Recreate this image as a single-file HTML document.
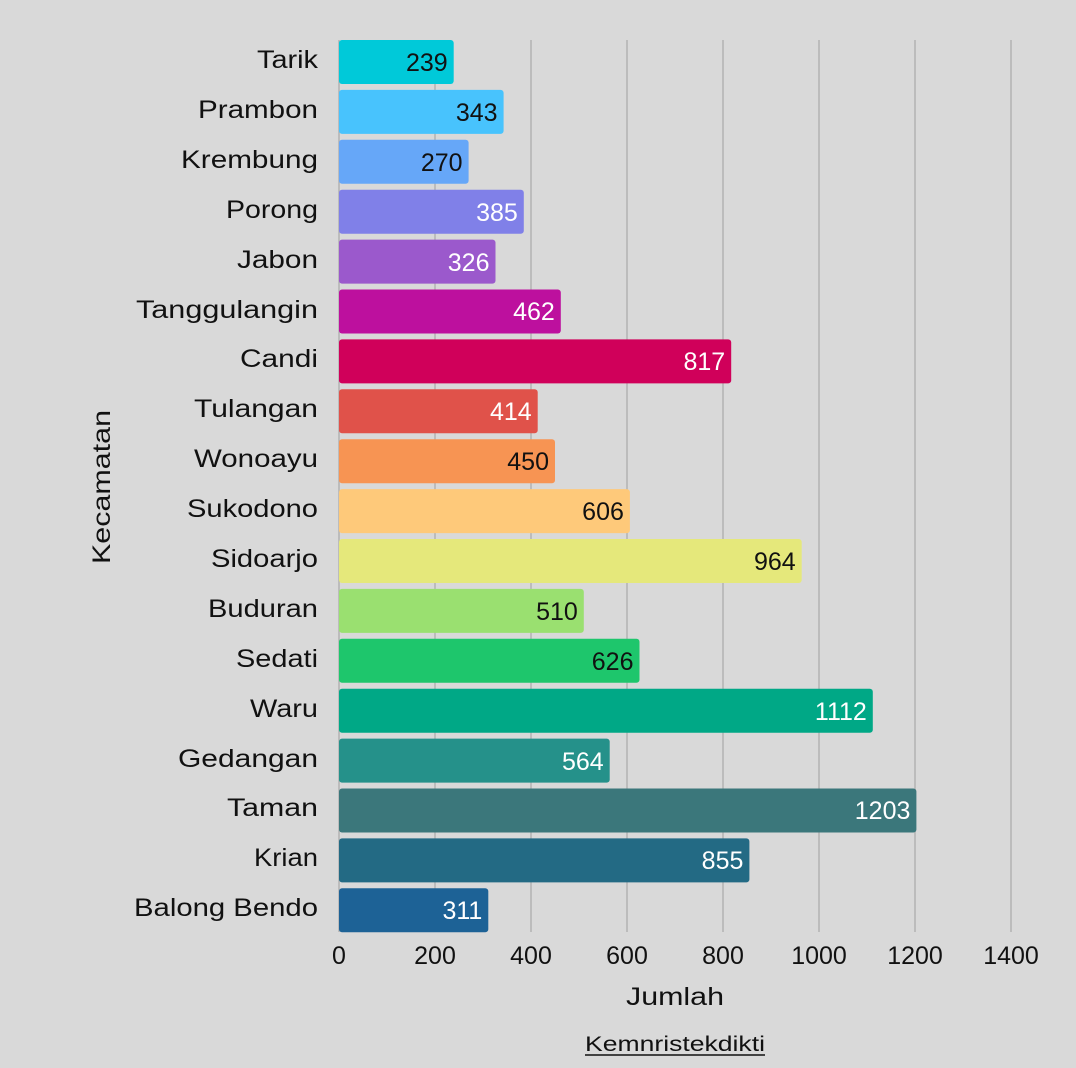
<!DOCTYPE html>
<html><head><meta charset="utf-8"><style>
html,body{margin:0;padding:0;background:#d9d9d9;}
svg{display:block;font-family:"Liberation Sans",sans-serif;}
</style></head><body>
<svg width="1076" height="1068" viewBox="0 0 1076 1068" xmlns="http://www.w3.org/2000/svg">
<rect width="1076" height="1068" fill="#d9d9d9"/>
<g stroke="#b3b3b3" stroke-width="1.5">
<line x1="435" y1="40" x2="435" y2="932"/><line x1="531" y1="40" x2="531" y2="932"/>
<line x1="627" y1="40" x2="627" y2="932"/><line x1="723" y1="40" x2="723" y2="932"/>
<line x1="819" y1="40" x2="819" y2="932"/><line x1="915" y1="40" x2="915" y2="932"/>
<line x1="1011" y1="40" x2="1011" y2="932"/><line x1="339" y1="40" x2="339" y2="932"/>
</g>
<g>
<rect x="339" y="40" width="114.7" height="44" rx="3" fill="#00c9d9"/>
<rect x="339" y="89.9" width="164.6" height="44" rx="3" fill="#48c3fd"/>
<rect x="339" y="139.8" width="129.6" height="44" rx="3" fill="#66a7f8"/>
<rect x="339" y="189.7" width="184.8" height="44" rx="3" fill="#8080e8"/>
<rect x="339" y="239.6" width="156.5" height="44" rx="3" fill="#9b59cc"/>
<rect x="339" y="289.5" width="221.8" height="44" rx="3" fill="#bd109e"/>
<rect x="339" y="339.4" width="392.2" height="44" rx="3" fill="#d0005a"/>
<rect x="339" y="389.3" width="198.7" height="44" rx="3" fill="#e0524a"/>
<rect x="339" y="439.2" width="216" height="44" rx="3" fill="#f79453"/>
<rect x="339" y="489.1" width="290.9" height="44" rx="3" fill="#fec97a"/>
<rect x="339" y="539" width="462.7" height="44" rx="3" fill="#e5e87b"/>
<rect x="339" y="588.9" width="244.8" height="44" rx="3" fill="#9ae070"/>
<rect x="339" y="638.8" width="300.5" height="44" rx="3" fill="#1ec66c"/>
<rect x="339" y="688.7" width="533.8" height="44" rx="3" fill="#00a886"/>
<rect x="339" y="738.6" width="270.7" height="44" rx="3" fill="#25918a"/>
<rect x="339" y="788.5" width="577.4" height="44" rx="3" fill="#3b777b"/>
<rect x="339" y="838.4" width="410.4" height="44" rx="3" fill="#236a84"/>
<rect x="339" y="888.3" width="149.3" height="44" rx="3" fill="#1d6296"/>
</g>
<g font-size="25" text-anchor="end">
<text x="447.7" y="71" fill="#111">239</text>
<text x="497.6" y="121" fill="#111">343</text>
<text x="462.6" y="171" fill="#111">270</text>
<text x="517.8" y="221" fill="#fff">385</text>
<text x="489.5" y="271" fill="#fff">326</text>
<text x="554.8" y="320" fill="#fff">462</text>
<text x="725.2" y="370" fill="#fff">817</text>
<text x="531.7" y="420" fill="#fff">414</text>
<text x="549" y="470" fill="#111">450</text>
<text x="623.9" y="520" fill="#111">606</text>
<text x="795.7" y="570" fill="#111">964</text>
<text x="577.8" y="620" fill="#111">510</text>
<text x="633.5" y="670" fill="#111">626</text>
<text x="866.8" y="720" fill="#fff">1112</text>
<text x="603.7" y="770" fill="#fff">564</text>
<text x="910.4" y="819" fill="#fff">1203</text>
<text x="743.4" y="869" fill="#fff">855</text>
<text x="482.3" y="919" fill="#fff">311</text>
</g>
<g font-size="25" fill="#111" lengthAdjust="spacingAndGlyphs">
<text x="257" y="68" textLength="61" lengthAdjust="spacingAndGlyphs">Tarik</text>
<text x="198" y="118" textLength="120" lengthAdjust="spacingAndGlyphs">Prambon</text>
<text x="181" y="168" textLength="137" lengthAdjust="spacingAndGlyphs">Krembung</text>
<text x="226" y="218" textLength="92" lengthAdjust="spacingAndGlyphs">Porong</text>
<text x="237" y="268" textLength="81" lengthAdjust="spacingAndGlyphs">Jabon</text>
<text x="136" y="318" textLength="182" lengthAdjust="spacingAndGlyphs">Tanggulangin</text>
<text x="240" y="367" textLength="78" lengthAdjust="spacingAndGlyphs">Candi</text>
<text x="194" y="417" textLength="124" lengthAdjust="spacingAndGlyphs">Tulangan</text>
<text x="194" y="467" textLength="124" lengthAdjust="spacingAndGlyphs">Wonoayu</text>
<text x="187" y="517" textLength="131" lengthAdjust="spacingAndGlyphs">Sukodono</text>
<text x="211" y="567" textLength="107" lengthAdjust="spacingAndGlyphs">Sidoarjo</text>
<text x="208" y="617" textLength="110" lengthAdjust="spacingAndGlyphs">Buduran</text>
<text x="236" y="667" textLength="82" lengthAdjust="spacingAndGlyphs">Sedati</text>
<text x="250" y="717" textLength="68" lengthAdjust="spacingAndGlyphs">Waru</text>
<text x="178" y="767" textLength="140" lengthAdjust="spacingAndGlyphs">Gedangan</text>
<text x="227" y="816" textLength="91" lengthAdjust="spacingAndGlyphs">Taman</text>
<text x="254" y="866" textLength="64" lengthAdjust="spacingAndGlyphs">Krian</text>
<text x="134" y="916" textLength="184" lengthAdjust="spacingAndGlyphs">Balong Bendo</text>
</g>
<g font-size="25" fill="#111" text-anchor="middle">
<text x="339" y="964">0</text><text x="435" y="964">200</text><text x="531" y="964">400</text>
<text x="627" y="964">600</text><text x="723" y="964">800</text><text x="819" y="964">1000</text>
<text x="915" y="964">1200</text><text x="1011" y="964">1400</text>
</g>
<text x="626" y="1005" font-size="25" fill="#111" textLength="98" lengthAdjust="spacingAndGlyphs">Jumlah</text>
<text x="585" y="1051" font-size="21" fill="#111" textLength="180" lengthAdjust="spacingAndGlyphs">Kemnristekdikti</text>
<line x1="585" y1="1055" x2="765" y2="1055" stroke="#111" stroke-width="1.5"/>
<text transform="translate(110,487) rotate(-90)" font-size="25" text-anchor="middle" fill="#111" textLength="154" lengthAdjust="spacingAndGlyphs">Kecamatan</text>
</svg>
</body></html>
